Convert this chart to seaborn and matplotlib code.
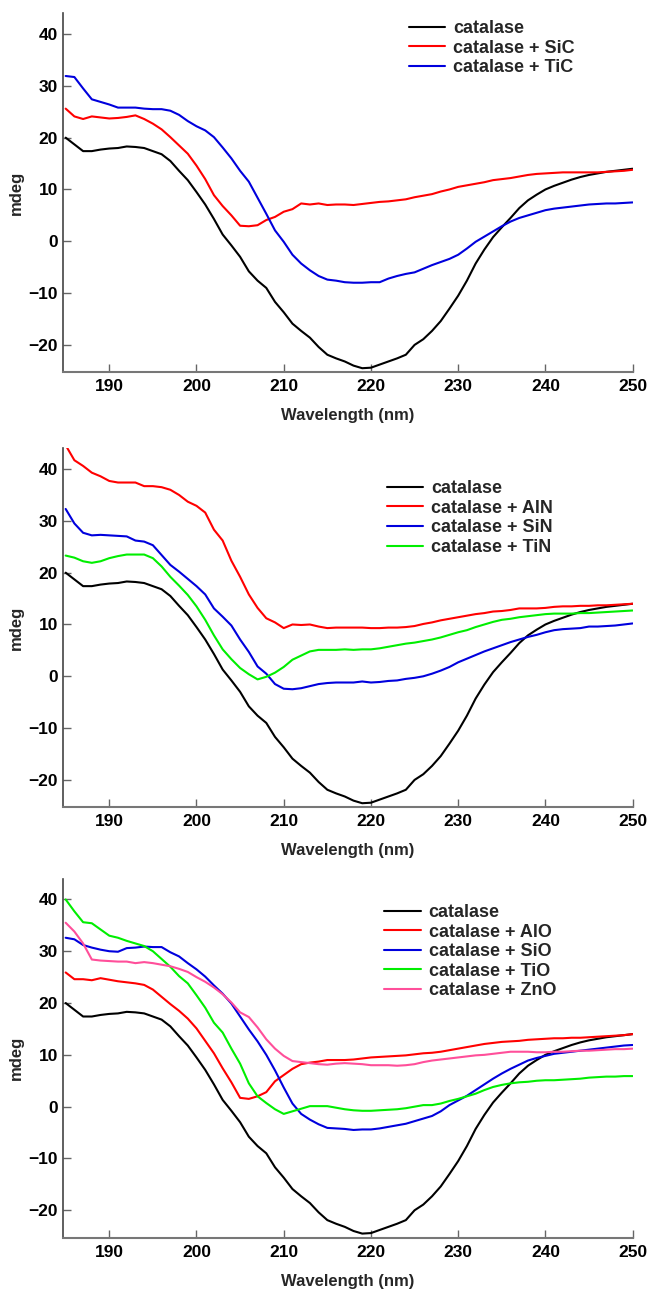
import numpy as np
import pandas as pd
import matplotlib
matplotlib.use("Agg")
import matplotlib.pyplot as plt
import seaborn as sns

# wavelengths, 1 nm steps
wavelength = list(range(185, 251))

catalase = [20.0, 18.7, 17.4, 17.4, 17.7, 17.9, 18.0, 18.3, 18.2, 18.0,
            17.4, 16.8, 15.5, 13.6, 11.8, 9.5, 7.1, 4.3, 1.3, -0.8,
            -3.0, -5.8, -7.6, -9.0, -11.7, -13.7, -15.9, -17.3, -18.6, -20.4,
            -21.9, -22.6, -23.2, -24.0, -24.5, -24.4, -23.8, -23.2, -22.6, -21.9,
            -20.0, -18.9, -17.3, -15.4, -13.0, -10.5, -7.6, -4.3, -1.6, 0.8,
            2.7, 4.5, 6.4, 7.9, 9.0, 10.0, 10.7, 11.3, 11.9, 12.4,
            12.8, 13.1, 13.4, 13.6, 13.8, 14.0]

sic = [25.6, 24.1, 23.6, 24.1, 23.9, 23.7, 23.8, 24.0, 24.3, 23.6,
       22.7, 21.6, 20.1, 18.5, 16.9, 14.6, 12.0, 8.9, 6.8, 5.0,
       3.0, 2.9, 3.1, 4.1, 4.7, 5.7, 6.2, 7.3, 7.1, 7.3,
       7.0, 7.1, 7.1, 7.0, 7.2, 7.4, 7.6, 7.7, 7.9, 8.1,
       8.5, 8.8, 9.1, 9.6, 10.0, 10.5, 10.8, 11.1, 11.4, 11.8,
       12.0, 12.2, 12.5, 12.8, 13.0, 13.1, 13.2, 13.3, 13.3, 13.3,
       13.3, 13.3, 13.4, 13.5, 13.6, 13.8]

tic = [31.9, 31.7, 29.5, 27.4, 26.9, 26.4, 25.8, 25.8, 25.8, 25.6,
       25.5, 25.5, 25.2, 24.4, 23.2, 22.2, 21.4, 20.1, 18.1, 16.0,
       13.6, 11.5, 8.4, 5.3, 2.1, -0.1, -2.6, -4.3, -5.6, -6.7,
       -7.4, -7.6, -7.9, -8.0, -8.0, -7.9, -7.9, -7.2, -6.7, -6.3,
       -6.0, -5.3, -4.6, -4.0, -3.4, -2.6, -1.4, -0.1, 0.9, 1.9,
       2.9, 3.8, 4.5, 5.0, 5.5, 6.0, 6.3, 6.5, 6.7, 6.9,
       7.1, 7.2, 7.3, 7.3, 7.4, 7.5]

aln = [44.6, 41.7, 40.6, 39.3, 38.6, 37.7, 37.4, 37.4, 37.4, 36.7,
       36.7, 36.5, 36.0, 35.0, 33.7, 32.9, 31.6, 28.3, 26.2, 22.3,
       19.2, 15.8, 13.2, 11.2, 10.4, 9.3, 10.0, 9.9, 10.0, 9.6,
       9.3, 9.4, 9.4, 9.4, 9.4, 9.3, 9.3, 9.4, 9.4, 9.5,
       9.7, 10.1, 10.4, 10.8, 11.1, 11.4, 11.7, 12.0, 12.2, 12.5,
       12.6, 12.8, 13.1, 13.1, 13.1, 13.2, 13.4, 13.5, 13.5, 13.6,
       13.6, 13.7, 13.7, 13.8, 13.9, 14.0]

sin = [32.3, 29.5, 27.7, 27.2, 27.3, 27.2, 27.1, 27.0, 26.2, 26.0,
       25.3, 23.4, 21.5, 20.2, 18.8, 17.4, 15.8, 13.1, 11.5, 9.8,
       7.1, 4.7, 1.9, 0.5, -1.5, -2.4, -2.5, -2.3, -1.9, -1.5,
       -1.3, -1.2, -1.2, -1.2, -1.0, -1.2, -1.1, -0.9, -0.8, -0.5,
       -0.3, 0.0, 0.5, 1.1, 1.8, 2.7, 3.4, 4.1, 4.8, 5.4,
       6.0, 6.6, 7.1, 7.6, 8.0, 8.5, 8.9, 9.1, 9.2, 9.3,
       9.6, 9.6, 9.7, 9.8, 10.0, 10.2]

tin = [23.3, 22.9, 22.2, 21.9, 22.2, 22.8, 23.2, 23.5, 23.5, 23.5,
       22.8, 21.2, 19.2, 17.5, 15.7, 13.5, 10.9, 7.9, 5.2, 3.3,
       1.6, 0.4, -0.6, -0.1, 0.7, 1.8, 3.2, 4.0, 4.8, 5.1,
       5.1, 5.1, 5.2, 5.1, 5.2, 5.2, 5.4, 5.7, 6.0, 6.3,
       6.5, 6.8, 7.1, 7.5, 8.0, 8.5, 8.9, 9.5, 10.0, 10.5,
       10.9, 11.1, 11.4, 11.6, 11.8, 12.0, 12.1, 12.1, 12.1, 12.2,
       12.2, 12.3, 12.4, 12.5, 12.6, 12.7]

alo = [25.9, 24.6, 24.6, 24.4, 24.8, 24.5, 24.2, 24.0, 23.8, 23.5,
       22.6, 21.2, 19.8, 18.5, 17.0, 15.1, 12.7, 10.3, 7.4, 4.7,
       1.7, 1.5, 2.0, 2.8, 4.9, 6.1, 7.3, 8.2, 8.5, 8.7,
       9.0, 9.0, 9.0, 9.1, 9.3, 9.5, 9.6, 9.7, 9.8, 9.9,
       10.1, 10.3, 10.4, 10.6, 10.9, 11.2, 11.5, 11.8, 12.1, 12.3,
       12.5, 12.6, 12.7, 12.9, 13.0, 13.1, 13.2, 13.2, 13.3, 13.3,
       13.4, 13.5, 13.6, 13.7, 13.8, 14.0]

sio = [32.6, 32.3, 31.2, 30.7, 30.3, 30.0, 29.9, 30.6, 30.7, 30.9,
       30.8, 30.8, 29.8, 29.0, 27.7, 26.5, 25.1, 23.4, 21.8, 19.9,
       17.4, 14.9, 12.6, 10.0, 7.0, 3.7, 0.6, -1.4, -2.5, -3.4,
       -4.1, -4.2, -4.3, -4.5, -4.4, -4.4, -4.2, -3.9, -3.6, -3.3,
       -2.8, -2.3, -1.8, -0.9, 0.3, 1.2, 2.1, 3.2, 4.3, 5.4,
       6.4, 7.3, 8.1, 8.9, 9.4, 9.8, 10.2, 10.4, 10.6, 10.8,
       11.0, 11.2, 11.4, 11.6, 11.8, 11.9]

tio = [40.0, 37.7, 35.6, 35.4, 34.2, 33.0, 32.6, 32.0, 31.5, 31.0,
       30.0, 28.5, 27.0, 25.2, 23.8, 21.5, 19.1, 16.2, 14.3, 11.2,
       8.3, 4.5, 2.0, 0.7, -0.5, -1.4, -0.9, -0.4, 0.1, 0.1,
       0.1, -0.2, -0.5, -0.7, -0.8, -0.8, -0.7, -0.6, -0.5, -0.3,
       0.0, 0.3, 0.3, 0.6, 1.1, 1.5, 2.0, 2.5, 3.2, 3.8,
       4.2, 4.5, 4.7, 4.8, 5.0, 5.1, 5.1, 5.2, 5.3, 5.4,
       5.6, 5.7, 5.8, 5.8, 5.9, 5.9]

zno = [35.5, 33.8, 31.5, 28.4, 28.2, 28.1, 28.0, 28.0, 27.7, 27.9,
       27.7, 27.4, 27.1, 26.6, 26.0, 25.0, 24.1, 23.0, 21.7, 20.1,
       18.2, 17.3, 15.3, 13.0, 11.2, 9.8, 8.8, 8.6, 8.4, 8.2,
       8.1, 8.3, 8.4, 8.3, 8.2, 8.0, 8.0, 8.0, 7.9, 8.0,
       8.2, 8.6, 8.9, 9.1, 9.3, 9.5, 9.7, 9.9, 10.0, 10.2,
       10.4, 10.6, 10.6, 10.6, 10.5, 10.5, 10.6, 10.6, 10.7, 10.8,
       10.8, 10.9, 11.0, 11.1, 11.1, 11.2]

BLACK, RED, BLUE, GREEN, PINK = "#000000", "#ff0000", "#0000dd", "#00ee00", "#ff4f9a"

panels = [
    [("catalase", catalase, BLACK), ("catalase + SiC", sic, RED),
     ("catalase + TiC", tic, BLUE)],
    [("catalase", catalase, BLACK), ("catalase + AlN", aln, RED),
     ("catalase + SiN", sin, BLUE), ("catalase + TiN", tin, GREEN)],
    [("catalase", catalase, BLACK), ("catalase + AlO", alo, RED),
     ("catalase + SiO", sio, BLUE), ("catalase + TiO", tio, GREEN),
     ("catalase + ZnO", zno, PINK)],
]
legend_anchor = [(0.607, 0.981), (0.568, 0.911), (0.564, 0.929)]
axes_bottom = [0.7118, 0.3751, 0.0420]

sns.set_style("ticks")
plt.rcParams["font.family"] = ["Liberation Sans", "DejaVu Sans"]
plt.rcParams["font.weight"] = "bold"

fig = plt.figure(figsize=(6.49, 12.92), dpi=100)

for series, anchor, bottom in zip(panels, legend_anchor, axes_bottom):
    ax = fig.add_axes([0.0978, bottom, 0.877, 0.2779])
    for label, values, color in series:
        df = pd.DataFrame({"wavelength": wavelength, "mdeg": values})
        sns.lineplot(data=df, x="wavelength", y="mdeg", color=color,
                     linewidth=1.5, label=label, ax=ax)
    ax.set_xlim(184.75, 250)
    ax.set_ylim(-25.3, 44)
    ax.set_xticks([190, 200, 210, 220, 230, 240, 250])
    ax.set_yticks([-20, -10, 0, 10, 20, 30, 40])
    ax.tick_params(direction="in", length=6, width=1, colors="#666666",
                   labelcolor="black", labelsize=12.5)
    ax.tick_params(axis="x", pad=5)
    ax.tick_params(axis="y", pad=4)
    for t in ax.get_xticklabels() + ax.get_yticklabels():
        t.set_fontweight("bold")
    sns.despine(ax=ax)
    ax.spines["left"].set_color("#444444")
    ax.spines["bottom"].set_color("#777777")
    ax.spines["left"].set_linewidth(1.2)
    ax.spines["bottom"].set_linewidth(1.5)
    ax.set_xlabel("Wavelength (nm)", fontsize=12, fontweight="bold", labelpad=10)
    ax.set_ylabel("mdeg", fontsize=12, fontweight="bold", labelpad=3)
    ax.legend(loc="upper left", bbox_to_anchor=anchor, frameon=False,
              borderpad=0, borderaxespad=0, labelspacing=0.14,
              handlelength=2.0, handletextpad=0.45,
              prop={"size": 13, "weight": "bold"})

fig.savefig("out.png", dpi=100)
